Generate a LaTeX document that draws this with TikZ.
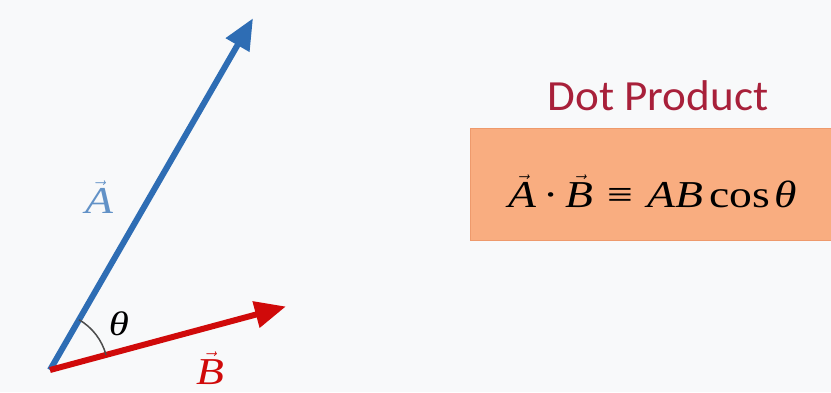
\documentclass[tikz,border=0pt]{standalone}
\usepackage{fontspec}
\usepackage{tikz}
\usetikzlibrary{arrows.meta,positioning,calc,angles}
\newfontfamily\tnr[FakeStretch=1.2]{Liberation Serif}
\newfontfamily\carlito[FakeStretch=1.05]{Carlito}
\definecolor{bgcol}{HTML}{F8F9FA}
\definecolor{vblue}{HTML}{2E6DB4}
\definecolor{vred}{HTML}{D00A0A}
\definecolor{boxfill}{HTML}{F9AD80}
\definecolor{boxline}{HTML}{EE9A6C}
\definecolor{titlecol}{HTML}{A8203A}
\newcommand{\vecsym}[1]{$\vec{\mbox{\tnr\itshape #1}}$}
\tikzset{
  vec/.style={line width=6pt,-{Triangle[length=31pt,width=26pt]},shorten >=-2pt},
  vecA/.style={vec,draw=vblue},
  vecB/.style={vec,draw=vred},
  lbl/.style={inner sep=0pt,anchor=base,font=\tnr\fontsize{38}{42}\selectfont},
  formel/.style={draw=boxline,fill=boxfill,line width=1pt,minimum width=380pt,
    minimum height=112pt,anchor=west,inner sep=0pt},
}

\begin{document}
\begin{tikzpicture}[x=1pt,y=1pt]
  \fill[bgcol] (0,0) rectangle (831,392);
  \useasboundingbox (0,0) rectangle (831,392);
  \coordinate (O) at (50,22);
  \coordinate (Atip) at (252,372);
  \coordinate (Btip) at (284,85);
  % the two vectors and the angle between them
  \draw[vecA] (O) -- (Atip);
  \draw[vecB] (O) -- (Btip);
  \draw[line width=1.5pt,black!70] ($(O)!58pt!(Btip)$) arc[start angle=15,end angle=60,radius=58pt];
  \node[lbl,text=vblue!75!white] (labA) at (99,179) {\vecsym{A}};
  \node[lbl,text=vred] (labB) at (210,8) {\vecsym{B}};
  \node[lbl,font=\tnr\itshape\fontsize{34}{40}\selectfont] (th) at (119,57) {θ};
  % dot product box
  \node[formel] (box) at (470,208) {};
  \node[lbl,font=\tnr\fontsize{38}{44}\selectfont] (eq) at (653,185)
    {\vecsym{A}\hspace{7pt}·\hspace{7pt}\vecsym{B}\hspace{14pt}≡\hspace{14pt}{\itshape AB}\hspace{6pt}cos\hspace{5pt}{\itshape θ}};
  \node[lbl,font=\carlito\fontsize{43}{50}\selectfont,text=titlecol] (title) at (658,282) {Dot Product};
\end{tikzpicture}
\end{document}
